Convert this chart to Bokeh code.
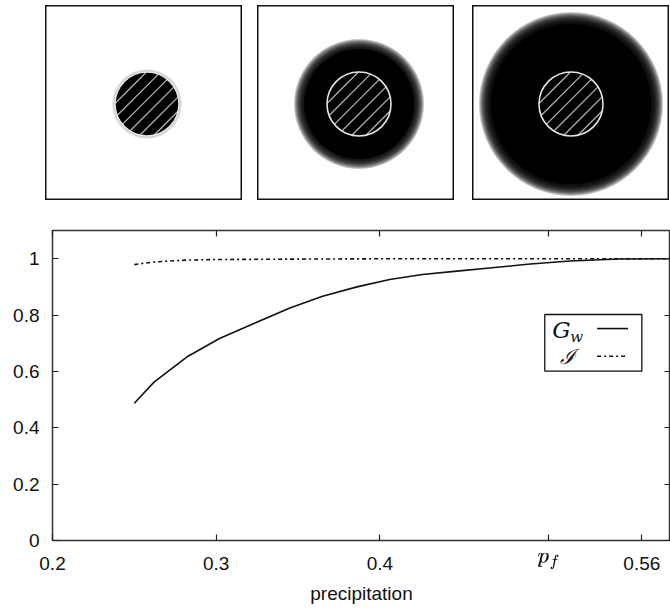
import math
from bokeh.plotting import figure
from bokeh.layouts import column, row
from bokeh.models import (Spacer, FixedTicker, LinearAxis, Range1d, Label,
                          BoxAnnotation, TeX)
from bokeh.embed import file_html
from bokeh.resources import INLINE

# ---------------- data ----------------
precip = [0.25, 0.262, 0.282, 0.302, 0.323, 0.345, 0.365, 0.386, 0.406,
          0.426, 0.447, 0.467, 0.49, 0.516, 0.546, 0.5775]
gw = [0.487, 0.562, 0.651, 0.717, 0.770, 0.825, 0.867, 0.900, 0.926,
      0.944, 0.956, 0.967, 0.980, 0.992, 0.999, 1.0]
precip_i = [0.25, 0.256, 0.262, 0.272, 0.282, 0.30, 0.33, 0.37, 0.42, 0.5, 0.5775]
integ = [0.979, 0.984, 0.988, 0.992, 0.995, 0.997, 0.998, 0.999, 1.0, 1.0, 1.0]

p_f = 0.503
x_ticks = [0.2, 0.3, 0.4, p_f, 0.56]
x_tick_labels = {0.2: "0.2", 0.3: "0.3", 0.4: "0.4", p_f: TeX(text=r"p_f"),
                 0.56: "0.56"}
y_ticks = [0, 0.2, 0.4, 0.6, 0.8, 1.0]
y_tick_labels = {0: "0", 0.2: "0.2", 0.4: "0.4", 0.6: "0.6", 0.8: "0.8", 1.0: "1"}

# panel snapshots: vegetated patch radius, wet region radius (px units)
patch_radius = [32, 32, 32]
wet_radius = [33, 60, 86]
blur_width = [2, 5, 6]
centers_x = [3, 3, 0]
centers_y = [-1, -1, -1]

FONT = "Liberation Sans"
SERIF = "DejaVu Serif"
DASH = "4 3 2 3"
HATCH_GAP = 10

# ---------------- top panels ----------------
PW, PH = 197, 195


def panel(i):
    f = figure(width=PW, height=PH, x_range=Range1d(-PW / 2, PW / 2),
               y_range=Range1d(-PH / 2, PH / 2), output_backend="svg",
               toolbar_location=None, min_border=0)
    f.axis.visible = False
    f.grid.visible = False
    f.outline_line_color = "#111111"
    f.outline_line_width = 2
    cx, cy = centers_x[i], centers_y[i]
    r, bw = wet_radius[i], blur_width[i]
    alpha = 0.09 if i == 0 else 0.22
    for k in range(2 * bw):
        f.circle(x=[cx], y=[cy], radius=r + bw - k, fill_color="black",
                 fill_alpha=alpha, line_color=None)
    if i > 0:
        f.circle(x=[cx], y=[cy], radius=r - bw, fill_color="black", line_color=None)
    rp = patch_radius[i]
    f.circle(x=[cx], y=[cy], radius=rp, fill_color="black", line_color=None)
    # hatch chords at 45 degrees
    x0, y0, x1, y1 = [], [], [], []
    s = 1 / math.sqrt(2)
    d = -rp + HATCH_GAP / 2
    while d < rp:
        h = math.sqrt(max(rp * rp - d * d, 0))
        mx, my = cx - d * s, cy + d * s
        x0.append(mx - h * s); y0.append(my - h * s)
        x1.append(mx + h * s); y1.append(my + h * s)
        d += HATCH_GAP
    f.segment(x0=x0, y0=y0, x1=x1, y1=y1, line_color="#b0b0b0", line_width=1.3)
    f.circle(x=[cx], y=[cy], radius=rp, fill_color=None, line_color="#e6e6e6",
             line_width=1.6)
    return f


panels = row(Spacer(width=45, height=PH), panel(0), Spacer(width=15, height=PH),
             panel(1), Spacer(width=18, height=PH), panel(2))

# ---------------- main plot ----------------
p = figure(width=670, height=412, x_range=Range1d(0.2, 0.5775),
           y_range=Range1d(0, 1.1), output_backend="svg", toolbar_location=None,
           min_border_left=52, min_border_right=0, min_border_top=30,
           min_border_bottom=72)
p.grid.visible = False
p.outline_line_color = "#333333"
p.outline_line_width = 1.5
p.background_fill_color = "white"

bx = p.below[0]
ly = p.left[0]

p.line(precip, gw, line_color="#111111", line_width=1.6)
p.line(precip_i, integ, line_color="#111111", line_width=1.6, line_dash=DASH)

bx.ticker = FixedTicker(ticks=x_ticks)
bx.major_label_overrides = x_tick_labels
ly.ticker = FixedTicker(ticks=y_ticks)
ly.major_label_overrides = y_tick_labels

top = LinearAxis(ticker=FixedTicker(ticks=x_ticks),
                 major_label_overrides={t: "" for t in x_ticks},
                 major_label_standoff=0, major_label_text_font_size="1px")
right = LinearAxis(ticker=FixedTicker(ticks=y_ticks),
                   major_label_overrides={t: "" for t in y_ticks},
                   major_label_standoff=0, major_label_text_font_size="1px")
p.add_layout(top, "above")
p.add_layout(right, "right")

for ax in [bx, ly, top, right]:
    ax.axis_line_color = None
    ax.major_tick_in = 6
    ax.major_tick_out = 0
    ax.major_tick_line_color = "#222222"
    ax.major_tick_line_width = 1.2
    ax.minor_tick_line_color = None
    ax.major_label_text_font = FONT
    ax.major_label_text_color = "#111111"

bx.major_label_text_font_size = "19px"
bx.major_label_standoff = 12
bx.axis_label = "precipitation"
bx.axis_label_text_font = FONT
bx.axis_label_text_font_style = "normal"
bx.axis_label_text_font_size = "19px"
bx.axis_label_standoff = 6
bx.axis_label_text_color = "#111111"
ly.major_label_text_font_size = "19px"
ly.major_label_standoff = 13

# legend
p.add_layout(BoxAnnotation(left=0.5007, right=0.560, top=0.802, bottom=0.601,
                           fill_color="white", fill_alpha=1.0, level="underlay",
                           line_color="#111111", line_alpha=1.0, line_width=1.3))
p.segment(x0=[0.5327], y0=[0.752], x1=[0.5516], y1=[0.752],
          line_color="#111111", line_width=1.6)
p.segment(x0=[0.5327], y0=[0.654], x1=[0.5505], y1=[0.654],
          line_color="#111111", line_width=1.6, line_dash=DASH)
p.add_layout(Label(x=0.5053, y=0.748, text="G", text_font=SERIF,
                   text_font_style="italic", text_font_size="23px",
                   text_baseline="middle", text_color="#111111"))
p.add_layout(Label(x=0.5053, y=0.748, text="w", text_font=SERIF,
                   text_font_style="italic", text_font_size="15px",
                   text_baseline="middle", x_offset=18, y_offset=-7,
                   text_color="#111111"))
p.add_layout(Label(x=0.5097, y=0.652, text="ℐ", text_font=SERIF,
                   text_font_style="italic", text_font_size="21px",
                   text_baseline="middle", text_color="#111111"))

layout = column(Spacer(width=670, height=5), panels, p, spacing=0)
open("out.html", "w").write(file_html(layout, INLINE))
